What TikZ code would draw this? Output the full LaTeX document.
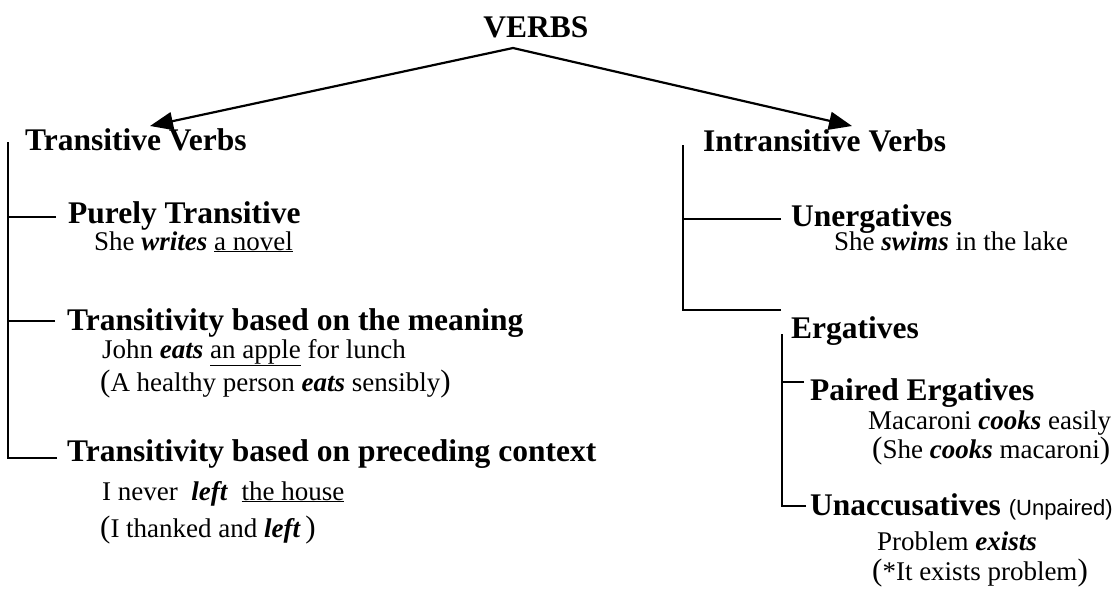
\documentclass[tikz,border=0pt]{standalone}
\usepackage{fontspec}
\setmainfont{Liberation Serif}
\newfontfamily\notesans{Liberation Sans}
\usepackage{tikz}
\usetikzlibrary{arrows.meta}
\tikzset{every picture/.append style={font=\fontsize{27}{32}\selectfont}}
\newcommand{\vrb}[1]{\textbf{\textit{#1}}}
\newcommand{\bpar}[1]{{\fontsize{31}{32}\selectfont(}#1{\fontsize{31}{32}\selectfont)}}

\begin{document}
\begin{tikzpicture}[x=1pt,y=-1pt,
    head/.style={anchor=base west,inner sep=0pt,font=\fontsize{31.5}{36}\selectfont\bfseries},
    eg/.style={anchor=base west,inner sep=0pt},
    tree/.style={line width=1.5pt},
    split/.style={line width=2.2pt,-{Triangle[length=23pt,width=18pt]}}]
    \useasboundingbox (0,0) rectangle (1114,606);
    \node[head,anchor=base] (verbs) at (536,37) {VERBS};
    \node[head] (tv) at (25,150) {Transitive Verbs};
    \node[head] (iv) at (703,151) {Intransitive Verbs};
    \coordinate (peak) at ([xshift=-23pt,yshift=-11pt]verbs.base);
    \coordinate (ltip) at ([xshift=125pt,yshift=24pt]tv.base west);
    \coordinate (rtip) at ([xshift=149pt,yshift=25pt]iv.base west);
    \draw[split] (peak) -- (ltip);
    \draw[split] (peak) -- (rtip);

    \node[head] (pure) at (68,223) {Purely Transitive};
    \node[eg] (pureeg) at (94,250) {She \vrb{writes} \underline{a novel}};
    \node[head] (mean) at (67,330) {Transitivity based on the meaning};
    \node[eg] (meaneg) at (102,358) {John \vrb{eats} \underline{an apple} for lunch};
    \node[eg] (meanalt) at (100,391) {\bpar{A healthy person \vrb{eats} sensibly}};
    \node[head] (ctx) at (67,461) {Transitivity based on preceding context};
    \node[eg] (ctxeg) at (102,500) {I never \ \vrb{left} \ \underline{the house}};
    \node[eg] (ctxalt) at (100,537) {\bpar{I thanked and \vrb{left}\,}};
    \coordinate (ltrunk) at (8,142);
    \draw[tree] ([xshift=-12pt,yshift=6pt]pure.base west) -| (ltrunk);
    \draw[tree] ([xshift=-12pt,yshift=9pt]mean.base west) -| (ltrunk);
    \draw[tree] ([xshift=-10pt,yshift=3pt]ctx.base west) -| (ltrunk);

    \node[head] (unerg) at (791,226) {Unergatives};
    \node[eg] (unergeg) at (834,250) {She \vrb{swims} in the lake};
    \node[head] (erg) at (791,338) {Ergatives};
    \node[head] (pair) at (810,400) {Paired Ergatives};
    \node[eg] (paireg) at (868,429) {Macaroni \vrb{cooks} easily};
    \node[eg] (pairalt) at (872,458) {\bpar{She \vrb{cooks} macaroni}};
    \node[head] (unacc) at (810,515) {Unaccusatives {\notesans\mdseries\fontsize{22}{26}\selectfont(Unpaired)}};
    \node[eg] (unacceg) at (877,550) {Problem \vrb{exists}};
    \node[eg] (unaccalt) at (872,580) {\bpar{*It exists problem}};
    \coordinate (rtrunk) at (683,145);
    \coordinate (etrunk) at (782,334);
    \draw[tree] ([xshift=-10pt,yshift=7pt]unerg.base west) -| (rtrunk);
    \draw[tree] ([xshift=-10pt,yshift=28pt]erg.base west) -| (rtrunk);
    \draw[tree] ([xshift=-6pt,yshift=18pt]pair.base west) -| (etrunk);
    \draw[tree] ([xshift=-4pt,yshift=9pt]unacc.base west) -| (etrunk);
\end{tikzpicture}
\end{document}
